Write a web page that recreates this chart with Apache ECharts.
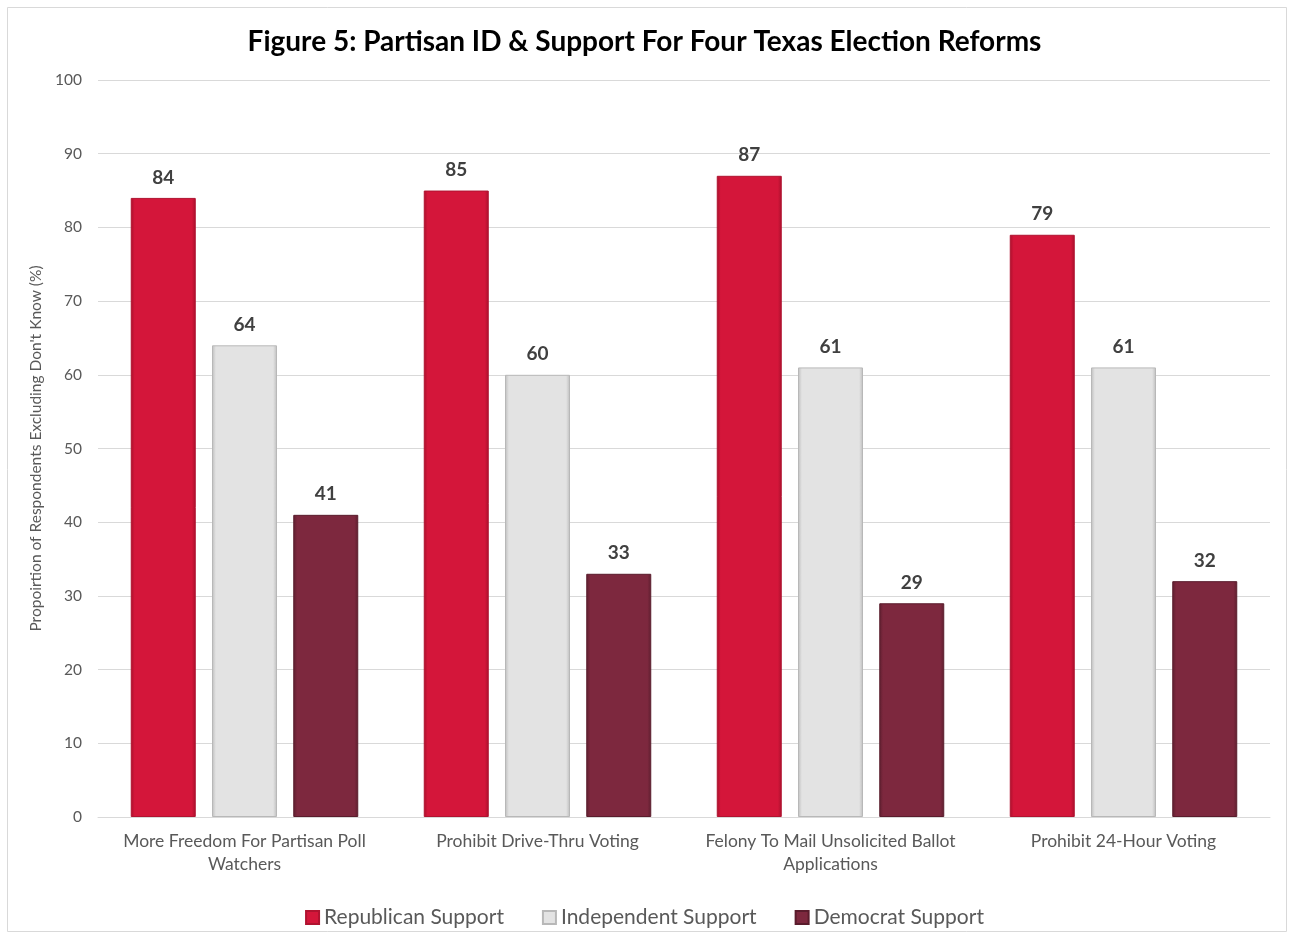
<!DOCTYPE html>
<html>
<head>
<meta charset="utf-8">
<script src="https://cdn.jsdelivr.net/npm/echarts@6/dist/echarts.min.js"></script>
<style>
  html, body { margin: 0; padding: 0; background: #fff; }
  #chart { width: 1289px; height: 934px; }
</style>
</head>
<body>
<div id="chart"></div>
<script>
var categories = ['More Freedom For Partisan Poll\nWatchers', 'Prohibit Drive-Thru Voting', 'Felony To Mail Unsolicited Ballot\nApplications', 'Prohibit 24-Hour Voting'];
var republican = [84, 85, 87, 79];
var independent = [64, 60, 61, 61];
var democrat = [41, 33, 29, 32];
var yTicks = [0, 10, 20, 30, 40, 50, 60, 70, 80, 90, 100];

var font = 'Lato, "Open Sans", sans-serif';

// bevel look: darker edges, flat middle
function bevel(edge, mid) {
    return new echarts.graphic.LinearGradient(0, 0, 1, 0, [
        {offset: 0, color: edge},
        {offset: 0.06, color: mid},
        {offset: 0.94, color: mid},
        {offset: 1, color: edge}
    ]);
}

var myChart = echarts.init(document.getElementById('chart'));

var labelStyle = {
    show: true,
    position: 'top',
    distance: 11,
    fontFamily: font,
    fontWeight: 'bold',
    fontSize: 19,
    color: '#404040'
};

option = {
    backgroundColor: '#fff',
    animation: false,
    title: {
        text: 'Figure 5: Partisan ID & Support For Four Texas Election Reforms',
        left: 'center',
        top: 23,
        textStyle: {fontFamily: font, fontSize: 28, fontWeight: 'bold', color: '#000'}
    },
    graphic: [{
        type: 'rect',
        shape: {x: 7.5, y: 7.5, width: 1279, height: 924},
        style: {fill: 'none', stroke: '#d9d9d9', lineWidth: 1},
        silent: true
    }],
    legend: {
        bottom: 1,
        left: 'center',
        itemWidth: 13,
        itemHeight: 13,
        itemGap: 38,
        icon: 'rect',
        textStyle: {fontFamily: font, fontSize: 21, color: '#595959'},
        data: ['Republican Support', 'Independent Support', 'Democrat Support']
    },
    grid: {
        left: 98,
        right: 19,
        top: 80,
        bottom: 117
    },
    xAxis: {
        type: 'category',
        data: categories,
        axisLine: {lineStyle: {color: '#d9d9d9'}},
        axisTick: {show: false},
        axisLabel: {
            interval: 0,
            fontFamily: font,
            fontSize: 17.5,
            color: '#595959',
            margin: 13,
            lineHeight: 23
        }
    },
    yAxis: {
        type: 'value',
        min: 0,
        max: 100,
        interval: 10,
        name: 'Propoirtion of Respondents Excluding Don\'t Know (%)',
        nameLocation: 'middle',
        nameGap: 49,
        nameTextStyle: {fontFamily: font, fontSize: 15.5, color: '#595959'},
        axisLine: {show: false},
        axisTick: {show: false},
        splitLine: {lineStyle: {color: '#d9d9d9'}},
        axisLabel: {
            fontFamily: font,
            fontSize: 15.5,
            color: '#595959',
            margin: 16,
            formatter: function (v) { return yTicks.indexOf(v) >= 0 ? v : ''; }
        }
    },
    series: [
        {
            name: 'Republican Support',
            type: 'bar',
            data: republican,
            barWidth: 65,
            barGap: '25%',
            itemStyle: {color: bevel('#a8102c', '#d4163a'), borderColor: '#b01330', borderWidth: 1},
            label: labelStyle
        },
        {
            name: 'Independent Support',
            type: 'bar',
            data: independent,
            barWidth: 65,
            barGap: '25%',
            itemStyle: {color: bevel('#bdbdbd', '#e3e3e3'), borderColor: '#b8b8b8', borderWidth: 1},
            label: labelStyle
        },
        {
            name: 'Democrat Support',
            type: 'bar',
            data: democrat,
            barWidth: 65,
            barGap: '25%',
            itemStyle: {color: bevel('#5e1f2f', '#7d283e'), borderColor: '#5a1c2c', borderWidth: 1},
            label: labelStyle
        }
    ]
};

myChart.setOption(option);
</script>
</body>
</html>
